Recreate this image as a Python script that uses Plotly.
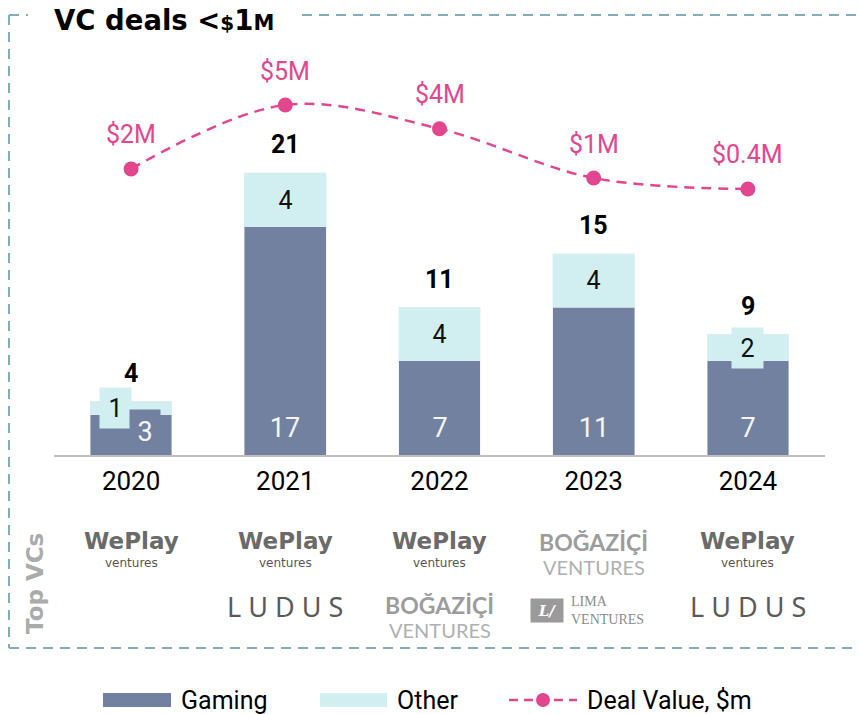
import plotly.graph_objects as go

# ---------------- data ----------------
years = ["2020", "2021", "2022", "2023", "2024"]
gaming = [3, 17, 7, 11, 7]
other = [1, 4, 4, 4, 2]
totals = [4, 21, 11, 15, 9]
deal_value = [1.5, 5.0, 3.7, 1.0, 0.4]
deal_labels = ["$2M", "$5M", "$4M", "$1M", "$0.4M"]
top_vcs_row1 = ["WePlay", "WePlay", "WePlay", "BOGAZICI", "WePlay"]
top_vcs_row2 = ["", "LUDUS", "BOGAZICI", "LIMA", "LUDUS"]

# ---------------- style ----------------
W, H = 859, 714
L, R, T, B = 54, 34, 40, 259
PW, PH = W - L - R, H - T - B
C_GAM = "#7381A0"
C_OTH = "#D1EEF0"
C_PINK = "#E2468F"
C_BORDER = "#82ADB9"
FONT = "Roboto"
TITLE_FONT = "DejaVu Sans"


def xp(px):
    return (px - L) / PW


def yp(py):
    return (T + PH - py) / PH


fig = go.Figure()
fig.add_trace(go.Bar(x=years, y=gaming, marker_color=C_GAM, width=0.53,
                     name="Gaming", hoverinfo="skip"))
fig.add_trace(go.Bar(x=years, y=other, marker_color=C_OTH, width=0.53,
                     name="Other", hoverinfo="skip"))
fig.add_trace(go.Scatter(x=years, y=deal_value, yaxis="y2", mode="lines+markers",
                         line=dict(color=C_PINK, width=2.5, dash="10px,7px",
                                   shape="spline", smoothing=1.0),
                         marker=dict(size=15, color=C_PINK),
                         name="Deal Value, $m", hoverinfo="skip"))

ann = []
# quirk offsets for overlapping label boxes in 2020
oth_shift = {0: (-16, 0)}
gam_shift = {0: (14, -4)}
for i, yr in enumerate(years):
    # other segment label
    dx, dy = oth_shift.get(i, (0, 0))
    ann.append(dict(x=i, y=gaming[i] + other[i] / 2, xref="x", yref="y",
                    text=str(other[i]), showarrow=False, xshift=dx, yshift=dy,
                    font=dict(family=FONT, size=25, color="#111111"),
                    bgcolor=C_OTH, width=31 if len(str(other[i])) == 1 else 44,
                    height=40, borderpad=0))
    # gaming label near base
    dx, dy = gam_shift.get(i, (0, 0))
    ann.append(dict(x=i, y=2, xref="x", yref="y",
                    text=str(gaming[i]), showarrow=False, xshift=dx, yshift=dy,
                    font=dict(family=FONT, size=27, color="#F4F4F4"),
                    bgcolor=C_GAM, width=30 if len(str(gaming[i])) == 1 else 46,
                    height=44, borderpad=0))
    # totals
    ann.append(dict(x=i, y=totals[i], xref="x", yref="y", text="<b>%d</b>" % totals[i],
                    showarrow=False, yshift=28,
                    font=dict(family=FONT, size=25, color="#000000")))
    # deal value labels
    ann.append(dict(x=i, y=deal_value[i], xref="x", yref="y2", text=deal_labels[i],
                    showarrow=False, yshift=34,
                    font=dict(family=FONT, size=25, color=C_PINK)))


def weplay(i, cy):
    ann.append(dict(x=i, xref="x", y=yp(cy - 2), yref="paper", text="<b>WePlay</b>",
                    showarrow=False,
                    font=dict(family="DejaVu Sans", size=23, color="#6A6A6A"),
                    yanchor="middle"))
    ann.append(dict(x=i, xref="x", y=yp(cy + 20), yref="paper", text="ventures",
                    showarrow=False,
                    font=dict(family="DejaVu Sans", size=12, color="#555555"),
                    yanchor="middle"))


def bogazici(i, cy):
    ann.append(dict(x=i, xref="x", y=yp(cy), yref="paper", text="<b>BOĞAZİÇİ</b>",
                    showarrow=False, font=dict(family="Lato", size=23, color="#9C9C9C"),
                    yanchor="middle"))
    ann.append(dict(x=i, xref="x", y=yp(cy + 25), yref="paper", text="VENTURES",
                    showarrow=False, font=dict(family="Lato", size=20, color="#B0B0B0"),
                    yanchor="middle"))


def ludus(i, cy):
    ann.append(dict(x=i, xref="x", y=yp(cy), yref="paper", text="L U D U S",
                    showarrow=False, font=dict(family="Noto Sans", size=27, color="#5A5A5A"),
                    yanchor="middle"))


def lima(i, cy):
    ann.append(dict(x=i, xref="x", y=yp(cy), yref="paper", text="<b><i>L/</i></b>",
                    showarrow=False, xshift=-47,
                    font=dict(family="DejaVu Serif", size=15, color="#FFFFFF"),
                    bgcolor="#9A9A9A", width=32, height=23, borderpad=0,
                    yanchor="middle"))
    ann.append(dict(x=i, xref="x", y=yp(cy), yref="paper",
                    text="LIMA<br>VENTURES", align="left", xanchor="left",
                    showarrow=False, xshift=-25,
                    font=dict(family="Liberation Serif", size=14, color="#8C8C8C"),
                    yanchor="middle"))


row_y = {1: 543, 2: 606}
for i, yr in enumerate(years):
    for row, name in ((1, top_vcs_row1[i]), (2, top_vcs_row2[i])):
        cy = row_y[row]
        if name == "WePlay":
            weplay(i, cy)
        elif name == "BOGAZICI":
            bogazici(i, cy - 1)
        elif name == "LUDUS":
            ludus(i, cy)
        elif name == "LIMA":
            lima(i, cy + 4)

# title
ann.append(dict(x=xp(52), y=yp(20), xref="paper", yref="paper", xanchor="left",
                yanchor="middle", showarrow=False,
                text="<b>VC deals &lt;<span style='font-size:20px'>$</span>1"
                     "<span style='font-size:21px'>M</span></b>",
                font=dict(family=TITLE_FONT, size=27.5, color="#000000")))
# Top VCs
ann.append(dict(x=xp(35), y=yp(584), xref="paper", yref="paper", textangle=-90,
                xanchor="center", yanchor="middle",
                showarrow=False, text="<b>Top VCs</b>",
                font=dict(family=TITLE_FONT, size=23, color="#ABABAB")))

# legend (drawn manually)
shapes = []
leg_y = 700
for x0, x1, col, label in ((103, 171, C_GAM, "Gaming"), (320, 387, C_OTH, "Other")):
    shapes.append(dict(type="rect", xref="paper", yref="paper", x0=xp(x0), x1=xp(x1),
                       y0=yp(leg_y - 7), y1=yp(leg_y + 7), fillcolor=col, line_width=0))
    ann.append(dict(x=xp(x1 + 8), y=yp(leg_y), xref="paper", yref="paper",
                    xanchor="left", yanchor="middle", showarrow=False, text=label,
                    font=dict(family=FONT, size=25, color="#000000")))
shapes.append(dict(type="line", xref="paper", yref="paper", x0=xp(509), x1=xp(577),
                   y0=yp(leg_y), y1=yp(leg_y),
                   line=dict(color=C_PINK, width=2.5, dash="9px,6px")))
shapes.append(dict(type="circle", xref="paper", yref="paper", x0=xp(536), x1=xp(550),
                   y0=yp(leg_y - 7), y1=yp(leg_y + 7), fillcolor=C_PINK, line_width=0))
ann.append(dict(x=xp(585), y=yp(leg_y), xref="paper", yref="paper",
                xanchor="left", yanchor="middle", showarrow=False, text="Deal Value, $m",
                font=dict(family=FONT, size=25, color="#000000")))

# dashed frame
bl = dict(color=C_BORDER, width=2, dash="10px,7px")
for (x0, y0, x1, y1) in ((9, 15, 28, 15), (302, 15, 880, 15), (9, 15, 9, 648),
                         (9, 648, 880, 648)):
    shapes.append(dict(type="line", xref="paper", yref="paper", x0=xp(x0), x1=xp(x1),
                       y0=yp(y0), y1=yp(y1), line=bl))

fig.update_layout(
    width=W, height=H, margin=dict(l=L, r=R, t=T, b=B, pad=0),
    barmode="stack", showlegend=False,
    plot_bgcolor="white", paper_bgcolor="white",
    xaxis=dict(type="category", showline=True, linecolor="#BFBFBF", linewidth=2, ticks="",
               showgrid=False, zeroline=False, range=[-0.5, 4.5],
               tickfont=dict(family=FONT, size=26, color="#000000"),
               ticklabelstandoff=2),
    yaxis=dict(visible=False, range=[0, PH / 13.43], showgrid=False),
    yaxis2=dict(visible=False, overlaying="y", range=[-14.17, 8.56], showgrid=False),
    annotations=ann, shapes=shapes,
)

fig.write_html("out.html", config={"displayModeBar": False},
               post_script="document.body.style.margin='0';")
